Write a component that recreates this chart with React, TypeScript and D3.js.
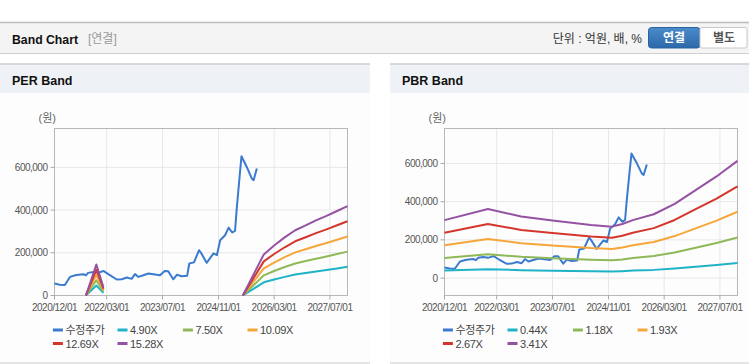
import React from "react";
import * as d3 from "d3";

// 수정주가 (adjusted price)
const priceDates = [
  "2020-12-01", "2021-01-15", "2021-03-01", "2021-04-15", "2021-06-01", "2021-07-01",
  "2021-08-10", "2021-09-01", "2021-09-20", "2021-11-05", "2021-12-15", "2022-02-01",
  "2022-03-15", "2022-05-28", "2022-07-10", "2022-08-25", "2022-10-05", "2022-11-03",
  "2022-12-03", "2023-01-15", "2023-03-01", "2023-05-12", "2023-06-10", "2023-07-20",
  "2023-08-20", "2023-10-03", "2023-11-03", "2023-12-15", "2024-02-01", "2024-02-20",
  "2024-04-01", "2024-05-15", "2024-06-01", "2024-07-20", "2024-09-18", "2024-10-18",
  "2024-11-15", "2024-12-28", "2025-01-28", "2025-02-28", "2025-03-25", "2025-04-10",
  "2025-05-01", "2025-05-20", "2025-07-05", "2025-08-18", "2025-09-03", "2025-10-01",
];
const priceValues = [
  56000, 50000, 49000, 87000, 95000, 97000,
  100000, 94000, 106000, 110000, 106000, 115000,
  100000, 75000, 76000, 84000, 78000, 100000,
  87000, 95000, 103000, 97000, 95000, 115000,
  114000, 76000, 97000, 90000, 92000, 150000,
  155000, 212000, 200000, 153000, 197000, 189000,
  259000, 282000, 318000, 295000, 303000, 415000,
  540000, 652000, 602000, 548000, 540000, 595000,
];

// PER band
const perLabels = ["4.90X", "7.50X", "10.09X", "12.69X", "15.28X"];
const perDates = [
  "2021-09-01", "2021-12-01", "2022-02-01", "2023-10-01", "2025-06-01", "2025-12-01",
  "2026-03-01", "2026-06-01", "2026-09-01", "2026-12-01", "2027-03-01", "2027-06-01",
  "2027-09-01", "2027-12-01",
];
const per490 = [0, 46600, 12300, null, 0, 61700, 75000, 87200, 98000, 105400, 112700, 119600, 126900, 134300];
const per750 = [0, 71300, 18800, null, 0, 94500, 114800, 133500, 150000, 161300, 172500, 183000, 194300, 205500];
const per1009 = [0, 95900, 25200, null, 0, 127100, 154400, 179600, 201800, 216900, 232100, 246200, 261300, 276500];
const per1269 = [0, 120600, 31700, null, 0, 159900, 194200, 225900, 253800, 272800, 291900, 309600, 328700, 347700];
const per1528 = [0, 145200, 38200, null, 0, 192500, 233800, 272000, 305600, 328500, 351400, 372800, 395800, 418700];

// PBR band
const pbrLabels = ["0.44X", "1.18X", "1.93X", "2.67X", "3.41X"];
const pbrDates = [
  "2020-12-01", "2021-12-15", "2022-10-01", "2023-07-01", "2024-06-01", "2024-12-01",
  "2025-03-01", "2025-06-01", "2025-12-01", "2026-06-01", "2026-12-01", "2027-06-01",
  "2027-12-01",
];
const pbr044 = [39200, 46600, 41600, 38900, 35900, 34800, 36500, 39200, 43100, 50200, 59400, 68600, 79200];
const pbr118 = [105000, 125100, 111500, 104400, 96200, 93200, 97900, 105000, 115600, 134500, 159300, 184100, 212400];
const pbr193 = [171800, 204600, 182400, 170800, 157300, 152500, 160200, 171800, 189100, 220000, 260600, 301100, 347400];
const pbr267 = [237600, 283000, 252300, 236300, 217600, 210900, 221600, 237600, 261700, 304400, 360500, 416500, 480600];
const pbr341 = [303500, 361500, 322200, 301800, 277900, 269400, 283000, 303500, 334200, 388700, 460400, 532000, 613800];

const xTicks = ["2020-12-01", "2022-03-01", "2023-07-01", "2024-11-01", "2026-03-01", "2027-07-01"];
const xStart = "2020-12-01";
const xEnd = "2027-12-01";
const yTicks = [0, 200000, 400000, 600000];

const colors = ["#3a7bd0", "#1fb3c8", "#8fb858", "#f6a63a", "#d5362c", "#9552a3"];
const font = "'Liberation Sans', Arial, 'Noto Sans CJK KR', sans-serif";
const parse = d3.timeParse("%Y-%m-%d");
const fmt = d3.format(",");

function BandPanel({ px, pw, title, plotL, plotR, yDomain, bandDates, bands, labels }) {
  const top = 128.5, bottom = 295.5;
  const x = d3.scaleTime().domain([parse(xStart), parse(xEnd)]).range([plotL, plotR]);
  const y = d3.scaleLinear().domain(yDomain).range([bottom, top]);
  const line = d3.line()
    .defined((d) => d[1] != null)
    .x((d) => x(d[0]))
    .y((d) => y(d[1]));

  const pricePts = priceDates.map((d, i) => [parse(d), priceValues[i]]);
  const bandPts = bands.map((b) => bandDates.map((d, i) => [parse(d), b[i]]));
  const legendNames = ["수정주가", ...labels];
  const colX = [0, 64.6, 130, 194.6];

  return (
    <g>
      <rect x={px} y={64} width={pw} height={299} fill="#fdfdfd" />
      <rect x={px} y={64} width={pw} height={29} fill="#eef2f6" />
      <line x1={px} x2={px + pw} y1={64} y2={64} stroke="#d8d8d8" strokeWidth={2} />
      <line x1={px} x2={px + pw} y1={363} y2={363} stroke="#dcdcdc" strokeWidth={1.5} />
      <text x={px + 12} y={85} fontFamily={font} fontSize={12.5} fontWeight="bold" fill="#111">{title}</text>
      <text x={plotL - 16} y={122} fontFamily={font} fontSize={11} fill="#666">(원)</text>

      {/* grid */}
      {yTicks.map((t) => (
        <line key={"gy" + t} x1={plotL} x2={plotR} y1={y(t)} y2={y(t)} stroke="#e8e8e8" />
      ))}
      {xTicks.map((t) => (
        <line key={"gx" + t} x1={x(parse(t))} x2={x(parse(t))} y1={top} y2={bottom} stroke="#e8e8e8" />
      ))}
      <rect x={plotL} y={top} width={plotR - plotL} height={bottom - top} fill="none" stroke="#b8b8b8" />

      {/* axes labels */}
      {yTicks.map((t) => (
        <g key={"ty" + t}>
          <line x1={plotL - 4} x2={plotL} y1={y(t)} y2={y(t)} stroke="#aaa" />
          <text x={plotL - 7} y={y(t) + 3.5} textAnchor="end" fontFamily={font} fontSize={10}
            letterSpacing={-0.5} fill="#555">{fmt(t)}</text>
        </g>
      ))}
      {xTicks.map((t) => (
        <g key={"tx" + t}>
          <line x1={x(parse(t))} x2={x(parse(t))} y1={bottom} y2={bottom + 4} stroke="#aaa" />
          <text x={x(parse(t))} y={311} textAnchor="middle" fontFamily={font} fontSize={10}
            letterSpacing={-0.5} fill="#555">{t.replace(/-/g, "/")}</text>
        </g>
      ))}

      {/* series */}
      <path d={line(pricePts)} fill="none" stroke={colors[0]} strokeWidth={2} strokeLinejoin="round" />
      {bandPts.map((pts, i) => (
        <path key={"b" + i} d={line(pts)} fill="none" stroke={colors[i + 1]} strokeWidth={2} strokeLinejoin="round" />
      ))}

      {/* legend */}
      {legendNames.map((name, i) => {
        const lx = plotL - 1.6 + colX[i % 4];
        const ly = i < 4 ? 330 : 343.5;
        return (
          <g key={"lg" + i}>
            <line x1={lx} x2={lx + 10} y1={ly} y2={ly} stroke={colors[i]} strokeWidth={3} />
            <text x={lx + 12.5} y={ly + 4} fontFamily={font} fontSize={11} letterSpacing={-0.3} fill="#444">{name}</text>
          </g>
        );
      })}
    </g>
  );
}

export default function App() {
  return (
    <div>
      <style>{`body{margin:0;background:#fff}`}</style>
      <svg width={749} height={364} style={{ display: "block" }}>
        <defs>
          <linearGradient id="btnBlue" x1="0" x2="0" y1="0" y2="1">
            <stop offset="0" stopColor="#4a8bcc" />
            <stop offset="1" stopColor="#2d68a8" />
          </linearGradient>
        </defs>
        <rect x={0} y={0} width={749} height={364} fill="#fff" />

        {/* header bar */}
        <rect x={0} y={22.5} width={749} height={31} fill="#f4f4f4" />
        <line x1={0} x2={749} y1={22.5} y2={22.5} stroke="#bdbdbd" strokeWidth={1.5} />
        <line x1={0} x2={749} y1={53.5} y2={53.5} stroke="#cfcfcf" />
        <text x={12} y={43.5} fontFamily={font} fontSize={13} fontWeight="bold" fill="#111"
          textLength={66} lengthAdjust="spacingAndGlyphs">Band Chart</text>
        <text x={88} y={43} fontFamily={font} fontSize={12} fill="#999">[연결]</text>
        <text x={642} y={43} textAnchor="end" fontFamily={font} fontSize={12} fill="#333">단위 : 억원, 배, %</text>
        <rect x={648.5} y={27.5} width={51.5} height={20.5} rx={3} fill="url(#btnBlue)" stroke="#2b62a0" />
        <text x={674} y={42} textAnchor="middle" fontFamily={font} fontSize={12} fontWeight="bold" fill="#fff">연결</text>
        <rect x={700} y={27.5} width={47} height={20.5} rx={2} fill="#fff" stroke="#c8c8c8" />
        <text x={724} y={42} textAnchor="middle" fontFamily={font} fontSize={12} fontWeight="bold" fill="#555">별도</text>

        <BandPanel px={0} pw={370} title="PER Band" plotL={54.5} plotR={347.5}
          yDomain={[0, 782000]} bandDates={perDates}
          bands={[per490, per750, per1009, per1269, per1528]} labels={perLabels} />
        <BandPanel px={390} pw={359} title="PBR Band" plotL={444.5} plotR={737.5}
          yDomain={[-91000, 783000]} bandDates={pbrDates}
          bands={[pbr044, pbr118, pbr193, pbr267, pbr341]} labels={pbrLabels} />
      </svg>
    </div>
  );
}
